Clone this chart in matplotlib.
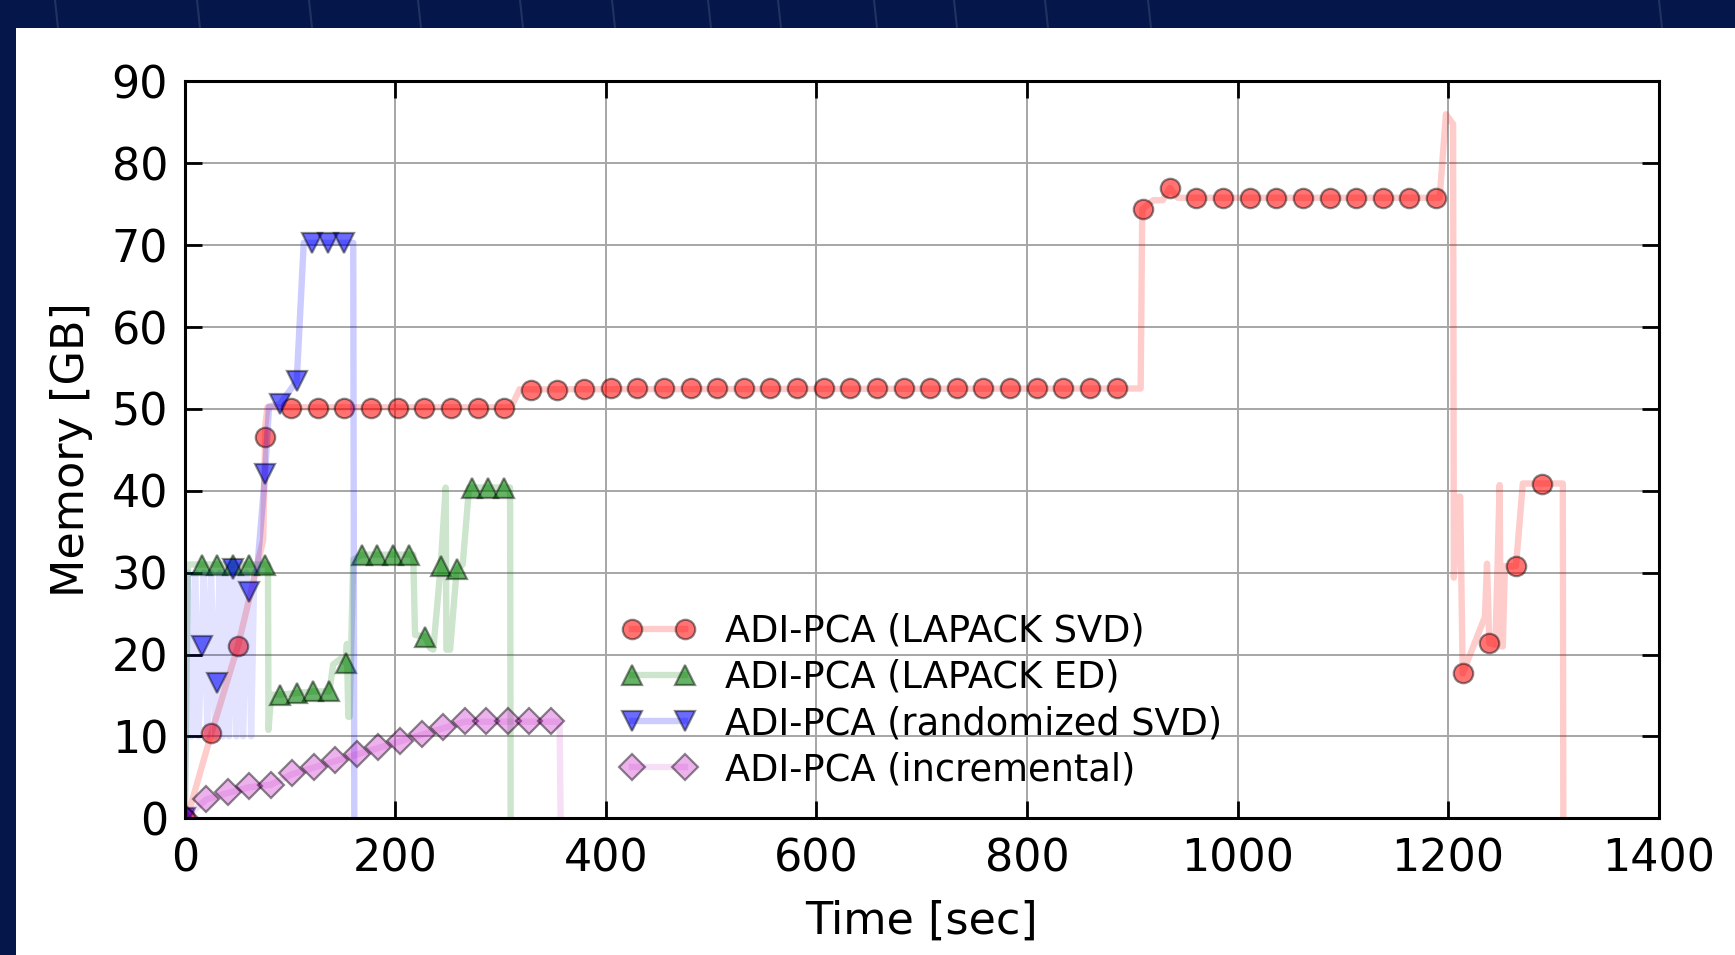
import matplotlib
matplotlib.use("Agg")
import matplotlib.pyplot as plt
from matplotlib.lines import Line2D
from matplotlib.patches import Rectangle

# ---------------- data ----------------
# ADI-PCA (LAPACK SVD): memory trace and marker samples
svd_t = [0, 3, 25.3, 50.6, 74.5, 76.5, 78.5, 310, 318, 908, 909.5, 920, 929,
         935.7, 943, 1192, 1198, 1204.8, 1205.5, 1210.5, 1211.5, 1213.9, 1235,
         1237, 1239.2, 1245, 1249, 1250, 1252, 1254, 1264.5, 1271, 1309, 1309.5]
svd_m = [0, 0.4, 10.4, 21.1, 34, 48, 50.2, 50.2, 52.4, 52.5, 74.4, 75.5, 75.5,
         77.0, 75.8, 75.8, 86, 84.8, 29.4, 39.3, 39.3, 17.7, 24.6,
         31.1, 21.4, 21.2, 40.7, 21.0, 21.0, 30.8, 30.8, 40.9, 40.9, 0]
svd_mk_t = [0, 25.3, 50.6, 75.9, 101.2, 126.4, 151.7, 177.0, 202.3, 227.6,
            252.9, 278.2, 303.4, 328.7, 354.0, 379.3, 404.6, 429.9, 455.2,
            480.5, 505.8, 531.0, 556.3, 581.6, 606.9, 632.2, 657.5, 682.8,
            708.1, 733.4, 758.6, 783.9, 809.2, 834.5, 859.8, 885.1, 910.4,
            935.7, 961.0, 986.3, 1011.6, 1036.8, 1062.1, 1087.4, 1112.7,
            1138.0, 1163.3, 1188.6, 1213.9, 1239.2, 1264.5, 1289.7]
svd_mk_m = [0, 10.4, 21.1, 46.6, 50.1, 50.1, 50.1, 50.1, 50.1, 50.1,
            50.1, 50.1, 50.1, 52.3, 52.3, 52.4, 52.5, 52.5, 52.5,
            52.5, 52.5, 52.5, 52.5, 52.5, 52.5, 52.5, 52.5, 52.5,
            52.5, 52.5, 52.5, 52.5, 52.5, 52.5, 52.5, 52.5, 74.4,
            77.0, 75.8, 75.8, 75.8, 75.8, 75.8, 75.8, 75.8,
            75.8, 75.8, 75.8, 17.7, 21.4, 30.8, 40.8]

# ADI-PCA (LAPACK ED)
ed_t = [0, 3, 79, 79.5, 82, 90.4, 106.3, 122, 137.3, 141, 148, 152.8, 154,
        155.3, 156.5, 160, 168, 217, 218.7, 228.2, 233, 236, 243.1, 247.8,
        248.5, 252, 258.3, 264, 270, 309, 309.5]
ed_m = [0, 31, 31, 10.8, 15.1, 15.1, 15.3, 15.5, 15.5, 18.8, 19.5, 19.0, 21.3,
        12.4, 12.4, 31.6, 32.2, 32.2, 22.4, 22.2, 20.8, 20.6, 30.8, 40.4,
        20.6, 20.6, 30.4, 31.0, 40.4, 40.4, 0]
ed_mk_t = [0, 16.0, 30.9, 46.1, 61.3, 76.2, 90.4, 106.3, 122.0, 137.3, 152.8,
           168.0, 183.0, 198.1, 213.3, 228.2, 243.1, 258.3, 273.1, 288.3, 303.5]
ed_mk_m = [0, 31.0, 31.0, 31.0, 31.0, 31.0, 15.1, 15.3, 15.5, 15.5, 19.0,
           32.2, 32.2, 32.2, 32.2, 22.2, 30.8, 30.4, 40.4, 40.4, 40.4]

# ADI-PCA (randomized SVD)
rsvd_t = [0, 3, 6.5, 10, 13, 16, 18, 21.5, 25, 29, 30.3, 33, 36, 39, 42, 45.5,
          49, 52, 55.5, 58.5, 61, 63, 66, 68.5, 76.2, 80, 90.4, 106.3, 113,
          151.5, 160, 161]
rsvd_m = [0, 30, 10, 30, 10, 21, 30, 10, 30, 10, 16.5, 30, 10, 30, 10, 30.4,
          10, 30, 10, 30, 27.7, 10, 30, 30, 42, 50.3, 50.6, 53.4, 70.3,
          70.3, 70.3, 0]
rsvd_mk_t = [0, 16.0, 30.3, 45.5, 61.0, 76.2, 90.4, 106.3, 121.1, 136.3, 151.5]
rsvd_mk_m = [0, 21.0, 16.5, 30.4, 27.7, 42.0, 50.6, 53.4, 70.3, 70.3, 70.3]

# ADI-PCA (incremental)
inc_t = [0, 20.4, 40.9, 61.3, 81.8, 102.2, 122.7, 143.1, 163.6, 184.0, 204.5,
         224.9, 245.4, 265.8, 286.3, 306.7, 327.2, 347.6, 356, 357]
inc_m = [0, 2.3, 3.1, 3.8, 4.1, 5.4, 6.2, 7.0, 7.8, 8.6, 9.4,
         10.2, 11.0, 11.8, 11.8, 11.8, 11.8, 11.8, 11.8, 0]
inc_mk_t = [0, 20.4, 40.9, 61.3, 81.8, 102.2, 122.7, 143.1, 163.6, 184.0,
            204.5, 224.9, 245.4, 265.8, 286.3, 306.7, 327.2, 347.6]
inc_mk_m = [0, 2.4, 3.2, 3.9, 4.1, 5.5, 6.3, 7.1, 7.9, 8.7,
            9.5, 10.3, 11.1, 11.9, 11.9, 11.9, 11.9, 11.9]

labels = ["ADI-PCA (LAPACK SVD)", "ADI-PCA (LAPACK ED)",
          "ADI-PCA (randomized SVD)", "ADI-PCA (incremental)"]
x_ticks = [0, 200, 400, 600, 800, 1000, 1200, 1400]
y_ticks = [0, 10, 20, 30, 40, 50, 60, 70, 80, 90]

# decorative slide streak positions (pixels, top strip)
streak_x = [55, 197, 309, 418, 520, 612, 708, 778, 874, 954, 1045, 1148, 1659]

# ---------------- styling ----------------
W, H = 1735, 955
NAVY = "#04164a"
fig = plt.figure(figsize=(W / 100, H / 100), dpi=100)
fig.patch.set_facecolor(NAVY)

# white slide panel
fig.add_artist(Rectangle((16 / W, 0), 1, (H - 28) / H, transform=fig.transFigure,
                         facecolor="white", edgecolor="none", zorder=0))
for sx in streak_x:
    fig.add_artist(Line2D([sx / W, (sx + 3) / W], [1, 1 - 28 / H],
                          transform=fig.transFigure, color="white",
                          alpha=0.12, lw=1.5, zorder=0))

ax = fig.add_axes([184.8 / W, 1 - 818.3 / H, (1658.6 - 184.8) / W,
                   (818.3 - 81.5) / H])
ax.set_facecolor("white")

EDGE = (0, 0, 0, 0.45)
LW = 4.6
# (line t, line m, marker t, marker m, colour, marker, line alpha,
#  marker alpha, marker size, index where the dense oscillating part ends)
series = [
    (svd_t, svd_m, svd_mk_t, svd_mk_m, (1, 0, 0), "o", 0.2, 0.55, 14, 0),
    (ed_t, ed_m, ed_mk_t, ed_mk_m, (0, 0.5, 0), "^", 0.2, 0.6, 14, 0),
    (rsvd_t, rsvd_m, rsvd_mk_t, rsvd_mk_m, (0, 0, 1), "v", 0.2, 0.58, 14, 24),
    (inc_t, inc_m, inc_mk_t, inc_mk_m, (0.75, 0, 0.75), "D", 0.12, 0.3, 13.5, 0),
]
handles = []
for (lt, lm, mt, mm, c, mk, la, ma, ms, dense), lab in zip(series, labels):
    lc = (*c, la)
    fc = (*c, ma)
    if dense:
        # dense oscillation: self-overlapping stroke, use lighter alpha so the
        # band reads as a single translucent layer
        ax.plot(lt[:dense], lm[:dense], color=(*c, 0.11), lw=LW,
                solid_joinstyle="round", solid_capstyle="butt")
        ax.plot(lt[dense - 1:], lm[dense - 1:], color=lc, lw=LW,
                solid_joinstyle="round", solid_capstyle="butt")
    else:
        ax.plot(lt, lm, color=lc, lw=LW, solid_joinstyle="round",
                solid_capstyle="butt")
    ax.plot(mt, mm, linestyle="none", marker=mk, ms=ms, mfc=fc, mec=EDGE,
            mew=1.6)
    handles.append(Line2D([], [], color=lc, lw=LW, marker=mk, ms=ms,
                          mfc=fc, mec=EDGE, mew=1.6))

ax.set_xlim(0, 1400)
ax.set_ylim(0, 90)
ax.set_xticks(x_ticks)
ax.set_yticks(y_ticks)
ax.grid(True, color="#a6a6a6", lw=1.4)
for s in ax.spines.values():
    s.set_linewidth(2.2)
    s.set_color("black")
ax.tick_params(direction="in", length=12, width=2, top=True, right=True,
               labelsize=32, pad=12, colors="black")
ax.tick_params(axis="x", pad=14)

ax.set_xlabel("Time [sec]", fontsize=32)
ax.set_ylabel("Memory [GB]", fontsize=32)
ax.xaxis.set_label_coords(0.5, -0.111)
ax.yaxis.set_label_coords(-0.0625, 0.5)

leg = ax.legend(handles, labels, loc="center left",
                bbox_to_anchor=(620.8 / W, 1 - 700.5 / H),
                bbox_transform=fig.transFigure, borderaxespad=0, borderpad=0,
                frameon=False, fontsize=26.5, numpoints=2, handlelength=2.04,
                handletextpad=0.78, labelspacing=0.25)

fig.savefig("out.png", dpi=100, facecolor=NAVY)
